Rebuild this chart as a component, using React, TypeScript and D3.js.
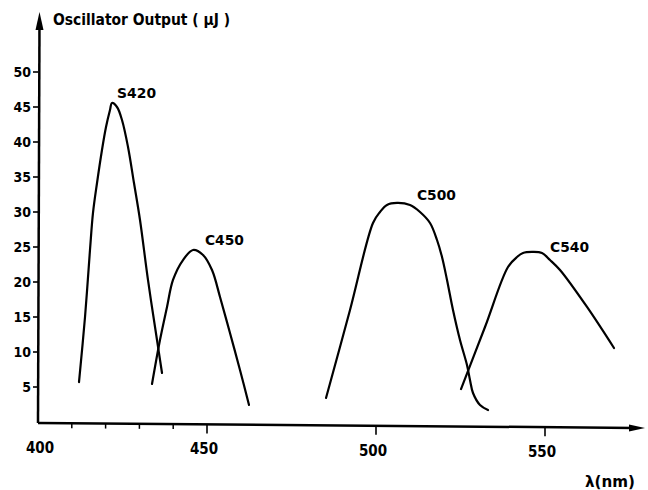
import React from "react";
import * as d3 from "d3";

const xTicksMajor = [400, 450, 500, 550];
const xTicksMinor = [410, 420, 430, 440];
const yTicks = [5, 10, 15, 20, 25, 30, 35, 40, 45, 50];

const s420X = [412.13, 413.91, 415.38, 416.27, 417.46, 418.93, 420.12, 421.3, 421.89, 423.37, 424.85, 426.63, 428.4, 430.18, 432.54, 435.21, 436.69];
const s420Y = [5.71, 15.0, 24.57, 29.86, 34.14, 38.86, 42.14, 44.57, 45.57, 45.0, 43.14, 39.29, 34.14, 28.86, 20.29, 11.71, 7.0];

const c450X = [433.73, 436.09, 438.17, 439.94, 442.9, 445.86, 448.82, 451.48, 453.85, 456.8, 459.76, 462.43];
const c450Y = [5.43, 11.71, 16.43, 20.29, 23.14, 24.57, 23.86, 21.71, 17.86, 12.71, 7.43, 2.43];

const c500X = [485.21, 492.31, 499.11, 501.18, 503.25, 506.21, 510.06, 513.02, 515.98, 518.05, 519.53, 521.01, 522.78, 524.85, 526.92, 527.81, 528.7, 530.77, 533.14];
const c500Y = [3.43, 16.0, 28.43, 30.0, 31.0, 31.29, 31.0, 30.0, 28.43, 26.0, 23.57, 20.29, 16.0, 11.71, 8.14, 6.0, 4.14, 2.43, 1.71];

const c540X = [525.15, 532.25, 539.05, 541.72, 543.49, 546.15, 549.11, 551.48, 554.44, 562.43, 570.41];
const c540Y = [4.71, 13.57, 22.14, 23.57, 24.14, 24.29, 24.14, 23.14, 21.71, 16.43, 10.57];

const seriesNames = ["S420", "C450", "C500", "C540"];
const labelAt = [
  [423.4, 46.3],
  [449.4, 25.3],
  [512.1, 31.7],
  [551.5, 24.3],
];

const FONT = "'Liberation Sans Narrow', 'DejaVu Sans Condensed', 'DejaVu Sans', sans-serif";

export default function App() {
  const W = 648;
  const H = 490;
  const x = d3.scaleLinear().domain([400, 550]).range([38, 545]);
  const y = d3.scaleLinear().domain([0, 50]).range([422, 72]);
  const xEnd = 645;
  const axisY = (px: number) => 423 + ((px - 38) / (xEnd - 38)) * 5;

  const line = d3
    .line<[number, number]>()
    .x((d) => x(d[0]))
    .y((d) => y(d[1]))
    .curve(d3.curveCatmullRom.alpha(0.5));

  const series = [
    d3.zip(s420X, s420Y) as [number, number][],
    d3.zip(c450X, c450Y) as [number, number][],
    d3.zip(c500X, c500Y) as [number, number][],
    d3.zip(c540X, c540Y) as [number, number][],
  ];

  return (
    <svg
      width={W}
      height={H}
      style={{ position: "absolute", left: 0, top: 0, background: "#fff" }}
      fontFamily={FONT}
    >
      <rect width={W} height={H} fill="#fff" />
      {/* y axis */}
      <line x1={38} y1={axisY(38)} x2={39.5} y2={22} stroke="#000" strokeWidth={2.5} />
      <path d="M39.5,12 L35.5,30 L43.5,30 Z" fill="#000" />
      {/* x axis */}
      <line x1={38} y1={axisY(38)} x2={xEnd - 10} y2={axisY(xEnd - 10)} stroke="#000" strokeWidth={2.5} />
      <path
        d={`M${xEnd},${axisY(xEnd)} L${xEnd - 16},${axisY(xEnd) - 3.5} L${xEnd - 16},${axisY(xEnd) + 3.5} Z`}
        fill="#000"
      />
      {/* y ticks */}
      {yTicks.map((t) => (
        <g key={"y" + t}>
          <line x1={33} y1={y(t)} x2={38} y2={y(t)} stroke="#000" strokeWidth={1.6} />
          <text
            x={31}
            y={y(t)}
            dy="0.36em"
            textAnchor="end"
            fontSize={14}
            fontWeight="bold"
            fill="#000"
          >
            {t}
          </text>
        </g>
      ))}
      {/* x ticks */}
      {xTicksMinor.map((t) => (
        <line
          key={"xm" + t}
          x1={x(t)}
          y1={axisY(x(t))}
          x2={x(t)}
          y2={axisY(x(t)) + 5}
          stroke="#000"
          strokeWidth={1.5}
        />
      ))}
      {xTicksMajor.map((t) => (
        <g key={"xM" + t}>
          {t !== 400 && (
            <line
              x1={x(t)}
              y1={axisY(x(t))}
              x2={x(t)}
              y2={axisY(x(t)) + 9}
              stroke="#000"
              strokeWidth={1.6}
            />
          )}
          <text
            x={x(t) + (t === 400 ? 2 : -3)}
            y={axisY(x(t)) + 30}
            textAnchor="middle"
            fontSize={15}
            fontWeight="bold"
            fill="#000"
          >
            {t}
          </text>
        </g>
      ))}
      {/* axis titles */}
      <text x={53} y={25} fontSize={16} fontWeight="bold" fill="#000" textLength={177} lengthAdjust="spacingAndGlyphs">
        Oscillator Output ( μJ )
      </text>
      <text x={585} y={487} fontSize={15} fontWeight="bold" fill="#000" textLength={50} lengthAdjust="spacingAndGlyphs">
        λ(nm)
      </text>
      {/* curves */}
      {series.map((s, i) => (
        <path key={"c" + i} d={line(s) || ""} fill="none" stroke="#000" strokeWidth={2.2} strokeLinecap="round" strokeLinejoin="round" />
      ))}
      {seriesNames.map((n, i) => (
        <text
          key={"l" + n}
          x={x(labelAt[i][0])}
          y={y(labelAt[i][1])}
          fontSize={14}
          fontWeight="bold"
          fill="#000"
          textLength={39}
          lengthAdjust="spacingAndGlyphs"
        >
          {n}
        </text>
      ))}
    </svg>
  );
}
